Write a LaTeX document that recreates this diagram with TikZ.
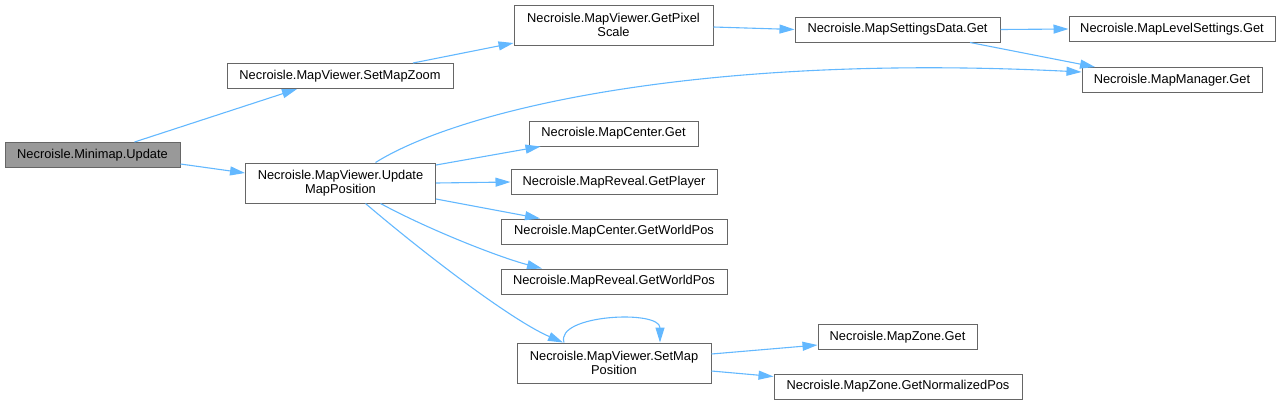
\documentclass[tikz,border=0pt]{standalone}
\usepackage{fontspec}
\setmainfont{Liberation Sans}
\usetikzlibrary{arrows.meta,calc}
\definecolor{edgeblue}{HTML}{63B8FF}
\definecolor{boxgray}{HTML}{666666}
\definecolor{rootfill}{HTML}{999999}

\begin{document}
\begin{tikzpicture}[x=1pt, y=-1pt,
      fn/.style={draw=boxgray, fill=white, line width=1pt, inner sep=0pt, align=center,
                 minimum height=25pt, font=\fontsize{12.85}{13.4}\selectfont},
      fn2/.style={fn, minimum height=40pt},
      call/.style={-{Triangle[length=15pt, width=9pt]}, edgeblue, line width=1.1pt}]
    \useasboundingbox (0,0) rectangle (1281,405);
    \node[fn, minimum width=175pt, fill=rootfill] (upd) at (92.5,155) {Necroisle.Minimap.Update};
    \node[fn, minimum width=226pt] (zoom) at (340,76) {Necroisle.MapViewer.SetMapZoom};
    \node[fn2, minimum width=190pt] (upos) at (340.5,183) {Necroisle.MapViewer.Update\\MapPosition};
    \node[fn2, minimum width=199pt] (pix) at (613.5,25) {Necroisle.MapViewer.GetPixel\\Scale};
    \node[fn, minimum width=205pt] (msd) at (897.5,29.5) {Necroisle.MapSettingsData.Get};
    \node[fn, minimum width=206pt] (mls) at (1172,29) {Necroisle.MapLevelSettings.Get};
    \node[fn, minimum width=180pt] (mgr) at (1172,80) {Necroisle.MapManager.Get};
    \node[fn, minimum width=169pt] (mcg) at (613.5,133.5) {Necroisle.MapCenter.Get};
    \node[fn, minimum width=206pt] (mrp) at (614,182) {Necroisle.MapReveal.GetPlayer};
    \node[fn, minimum width=226pt] (mcw) at (614,231.5) {Necroisle.MapCenter.GetWorldPos};
    \node[fn, minimum width=226pt] (mrw) at (614,281.5) {Necroisle.MapReveal.GetWorldPos};
    \node[fn2, minimum width=194pt] (smp) at (614,363) {Necroisle.MapViewer.SetMap\\Position};
    \node[fn, minimum width=159pt] (mzg) at (897.5,337) {Necroisle.MapZone.Get};
    \node[fn, minimum width=248pt] (mzn) at (898,386.5) {Necroisle.MapZone.GetNormalizedPos};
    \draw[call] ([xshift=42pt]upd.north) -- ([xshift=-43pt]zoom.south);
    \draw[call] ([yshift=-9pt]upd.east) -- ([yshift=10pt]upos.west);
    \draw[call] ([xshift=73pt]zoom.north) -- ([yshift=-18pt]pix.west);
    \draw[call] ([yshift=-2pt]pix.east) -- (msd.west);
    \draw[call] (msd.east) -- (mls.west);
    \draw[call] ([xshift=72.5pt]msd.south) -- ([xshift=-77pt]mgr.north);
    \draw[call] ([xshift=35pt]upos.north) .. controls +(85,-53) and +(-382,-19) .. ([yshift=8pt]mgr.west);
    \draw[call] ([yshift=18pt]upos.east) -- ([xshift=-73pt]mcg.south);
    \draw[call] (upos.east) -- (mrp.west);
    \draw[call] ([yshift=-16pt]upos.east) -- ([xshift=-74pt]mcw.north);
    \draw[call] ([xshift=40pt]upos.south) .. controls +(50,27) and +(-42,-11) .. ([xshift=-72pt]mrw.north);
    \draw[call] ([xshift=25pt]upos.south) .. controls +(55,47) and +(-53,-23) .. ([xshift=-51pt]smp.north);
    \draw[call] ([xshift=-50pt]smp.north) .. controls +(-9,-28) and +(0,-33) .. ([xshift=46pt]smp.north);
    \draw[call] ([yshift=9pt]smp.east) -- ([yshift=-8pt]mzg.west);
    \draw[call] ([yshift=-8pt]smp.east) -- ([yshift=10pt]mzn.west);
  \end{tikzpicture}
\end{document}
